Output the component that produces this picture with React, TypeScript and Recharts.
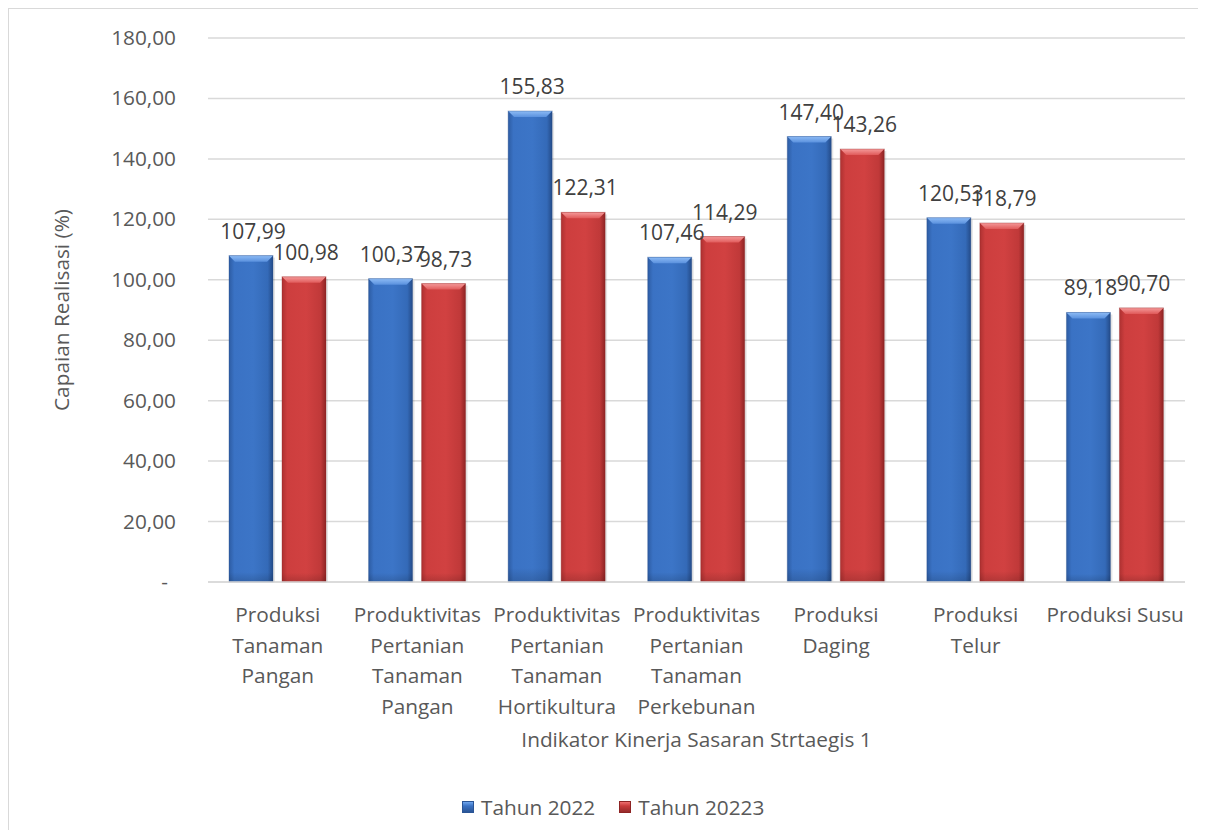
import React from "react";
import { BarChart, Bar, XAxis, YAxis, CartesianGrid, LabelList } from "recharts";

const categories = [
  "Produksi\nTanaman\nPangan",
  "Produktivitas\nPertanian\nTanaman\nPangan",
  "Produktivitas\nPertanian\nTanaman\nHortikultura",
  "Produktivitas\nPertanian\nTanaman\nPerkebunan",
  "Produksi\nDaging",
  "Produksi\nTelur",
  "Produksi Susu",
];
const tahun2022 = [107.99, 100.37, 155.83, 107.46, 147.4, 120.53, 89.18];
const tahun2023 = [100.98, 98.73, 122.31, 114.29, 143.26, 118.79, 90.7];
const yTicks = [0, 20, 40, 60, 80, 100, 120, 140, 160, 180];

const seriesNames = ["Tahun 2022", "Tahun 20223"];

const data = categories.map((c, i) => ({
  kategori: c,
  y2022: tahun2022[i],
  y2023: tahun2023[i],
}));

const FONT = "'Open Sans', 'Noto Sans', sans-serif";
const AXIS_TEXT = "#595959";
const GRID = "#d9d9d9";
const FS = 20.8;

const fmt = (v: number) => v.toFixed(2).replace(".", ",");

const palette: Record<string, { side: string }> = {
  blue: { side: "#244b88" },
  red: { side: "#8e2424" },
};

// bar with a bevelled top edge, similar to the office "soft bevel" style
const BevelBar = (tone: "blue" | "red") => (props: any) => {
  const { x, y, width, height } = props;
  if (!height || height <= 0) return null;
  const b = 6;
  const p = palette[tone];
  return (
    <g>
      <rect x={x + 2} y={y + 2} width={width} height={height - 2} fill="rgba(0,0,0,0.10)" />
      <rect x={x} y={y} width={width} height={height} fill={`url(#${tone}Body)`} />
      <rect x={x} y={y} width={width} height={height} fill="url(#bottomShade)" />
      <polygon
        points={`${x},${y} ${x + width},${y} ${x + width - b},${y + b} ${x + b},${y + b}`}
        fill={`url(#${tone}Bevel)`}
      />
      <rect x={x} y={y} width={width} height={height} fill="none" stroke={p.side} strokeOpacity={0.35} strokeWidth={1} />
    </g>
  );
};

const YTick = (props: any) => {
  const { x, y, payload } = props;
  const zero = payload.value === 0;
  return (
    <text
      x={zero ? x - 38 : x - 30}
      y={y}
      dy={7}
      textAnchor="end"
      fill={AXIS_TEXT}
      fontSize={FS}
      fontFamily={FONT}
    >
      {zero ? "-" : fmt(payload.value)}
    </text>
  );
};

const XTick = (props: any) => {
  const { x, y, payload } = props;
  const lines = String(payload.value).split("\n");
  return (
    <text x={x} y={y + 38} textAnchor="middle" fill={AXIS_TEXT} fontSize={FS} fontFamily={FONT}>
      {lines.map((l, i) => (
        <tspan key={i} x={x} dy={i === 0 ? 0 : 30.5}>
          {l}
        </tspan>
      ))}
    </text>
  );
};

const ValueLabel = (props: any) => {
  const { x, y, width, value } = props;
  return (
    <text
      x={x + width / 2 + 2}
      y={y - 17}
      textAnchor="middle"
      fill="#404040"
      fontSize={21}
      fontFamily={FONT}
    >
      {fmt(value)}
    </text>
  );
};

const LegendSwatch = ({ tone }: { tone: "blue" | "red" }) => (
  <span
    style={{
      display: "inline-block",
      width: 12,
      height: 12,
      marginRight: 7,
      background:
        tone === "blue"
          ? "linear-gradient(180deg, #6fa6ee 0%, #3a72c4 40%, #2a5596 100%)"
          : "linear-gradient(180deg, #ee7070 0%, #c93c3c 40%, #962b2b 100%)",
      border: `1px solid ${tone === "blue" ? "#2a5596" : "#8e2424"}`,
      boxSizing: "border-box",
    }}
  />
);

export default function App() {
  return (
    <div
      style={{
        position: "relative",
        width: 1198,
        height: 822,
        border: "1px solid #d9d9d9",
        borderRight: "none",
        borderBottom: "none",
        boxSizing: "border-box",
        overflow: "hidden",
        background: "#fff",
      }}
    >
      <BarChart
        width={1197}
        height={821}
        data={data}
        margin={{ top: 29, right: 21, left: 0, bottom: 98 }}
        barSize={44}
        barGap={9}
      >
        <defs>
          <linearGradient id="blueBody" x1="0" y1="0" x2="1" y2="0">
            <stop offset="0%" stopColor="#2d5ca3" />
            <stop offset="12%" stopColor="#3a72c4" />
            <stop offset="55%" stopColor="#3c75c7" />
            <stop offset="88%" stopColor="#346ab8" />
            <stop offset="100%" stopColor="#244b88" />
          </linearGradient>
          <linearGradient id="redBody" x1="0" y1="0" x2="1" y2="0">
            <stop offset="0%" stopColor="#ad3131" />
            <stop offset="12%" stopColor="#cd3e3e" />
            <stop offset="55%" stopColor="#d14141" />
            <stop offset="88%" stopColor="#c03939" />
            <stop offset="100%" stopColor="#8e2424" />
          </linearGradient>
          <linearGradient id="blueBevel" x1="0" y1="0" x2="0" y2="1">
            <stop offset="0%" stopColor="#8dbbf5" />
            <stop offset="100%" stopColor="#5a91de" />
          </linearGradient>
          <linearGradient id="redBevel" x1="0" y1="0" x2="0" y2="1">
            <stop offset="0%" stopColor="#f59a9a" />
            <stop offset="100%" stopColor="#e05a5a" />
          </linearGradient>
          <linearGradient id="bottomShade" x1="0" y1="0" x2="0" y2="1">
            <stop offset="0%" stopColor="#000" stopOpacity={0} />
            <stop offset="97%" stopColor="#000" stopOpacity={0} />
            <stop offset="100%" stopColor="#000" stopOpacity={0.15} />
          </linearGradient>
        </defs>
        <CartesianGrid vertical={false} stroke={GRID} strokeWidth={1.5} />
        <XAxis
          dataKey="kategori"
          height={150}
          interval={0}
          tickLine={false}
          tickSize={0}
          axisLine={{ stroke: GRID, strokeWidth: 1.5 }}
          tick={<XTick />}
          label={{
            content: (p: any) => {
              const vb = p.viewBox;
              return (
                <text
                  x={vb.x + vb.width / 2}
                  y={vb.y + 165}
                  textAnchor="middle"
                  fill={AXIS_TEXT}
                  fontSize={FS}
                  fontFamily={FONT}
                >
                  Indikator Kinerja Sasaran Strtaegis 1
                </text>
              );
            },
          }}
        />
        <YAxis
          width={199}
          domain={[0, 180]}
          ticks={yTicks}
          interval={0}
          axisLine={false}
          tickLine={false}
          tickSize={0}
          tick={<YTick />}
          label={{
            content: (p: any) => {
              const vb = p.viewBox;
              const cx = vb.x + 53;
              const cy = vb.y + vb.height / 2;
              return (
                <text
                  x={cx}
                  y={cy}
                  dy={7}
                  transform={`rotate(-90 ${cx} ${cy})`}
                  textAnchor="middle"
                  fill={AXIS_TEXT}
                  fontSize={FS}
                  fontFamily={FONT}
                >
                  Capaian Realisasi (%)
                </text>
              );
            },
          }}
        />
        <Bar dataKey="y2022" name={seriesNames[0]} shape={BevelBar("blue")} isAnimationActive={false}>
          <LabelList dataKey="y2022" content={<ValueLabel />} />
        </Bar>
        <Bar dataKey="y2023" name={seriesNames[1]} shape={BevelBar("red")} isAnimationActive={false}>
          <LabelList dataKey="y2023" content={<ValueLabel />} />
        </Bar>
      </BarChart>
      <div
        style={{
          position: "absolute",
          left: 453,
          top: 786,
          height: 24,
          display: "flex",
          alignItems: "center",
          fontFamily: FONT,
          fontSize: FS,
          color: AXIS_TEXT,
        }}
      >
        <LegendSwatch tone="blue" />
        <span style={{ marginRight: 24 }}>{seriesNames[0]}</span>
        <LegendSwatch tone="red" />
        <span>{seriesNames[1]}</span>
      </div>
    </div>
  );
}
